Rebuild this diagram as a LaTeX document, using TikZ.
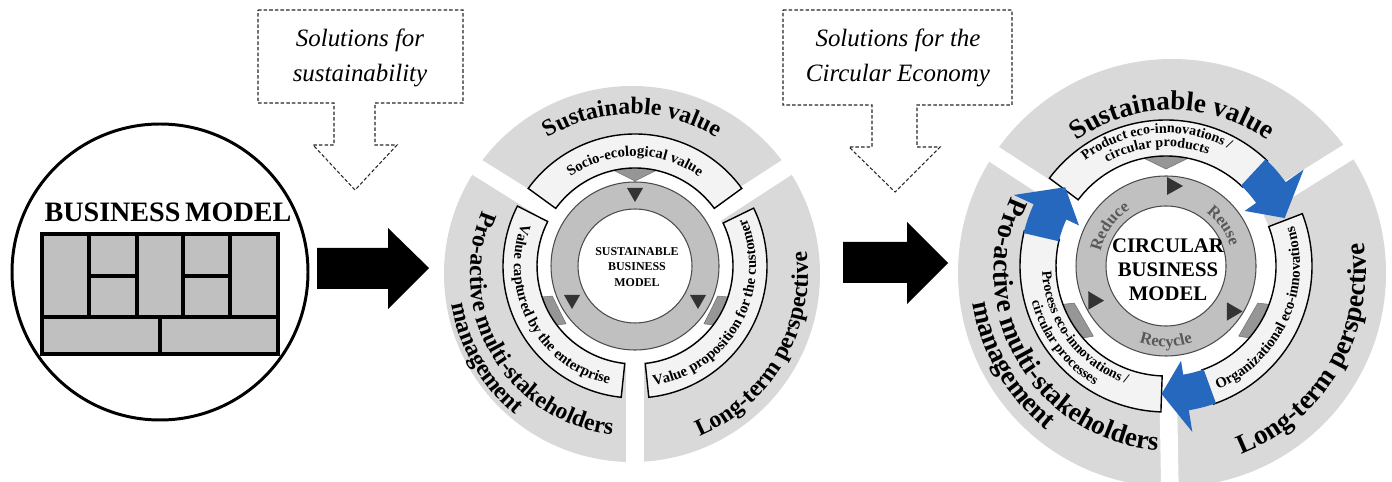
\documentclass[tikz,border=0pt]{standalone}
\usepackage{fontspec}
\setmainfont{Liberation Serif}
\usetikzlibrary{decorations.text}

\definecolor{seggray}{RGB}{217,217,217}
\definecolor{bandfill}{RGB}{243,243,243}
\definecolor{ringgray}{RGB}{192,192,192}
\definecolor{chevgray}{RGB}{150,150,150}
\definecolor{cellgray}{RGB}{192,192,192}
\definecolor{cycleblue}{RGB}{38,104,190}

\newcommand{\outerfont}{\bfseries\fontsize{13.5}{13.5}\selectfont}
\newcommand{\outerfontb}{\bfseries\fontsize{15.5}{15.5}\selectfont}
\newcommand{\bandfont}{\bfseries\fontsize{8.4}{8.4}\selectfont}
\newcommand{\bandfontb}{\bfseries\fontsize{8}{8}\selectfont}
\newcommand{\ringfont}{\bfseries\fontsize{9.5}{9.5}\selectfont}

\tikzset{
  seg/.style={fill=seggray, even odd rule},
  gap/.style={draw=white, line width=10pt},
  band/.style={fill=bandfill, draw=black, line width=0.8pt},
  ring/.style={fill=ringgray, draw=black!70, line width=0.6pt, even odd rule},
  chev/.style={fill=chevgray, draw=black!55, line width=0.3pt},
  tri/.style={fill=black!80},
  callout/.style={draw=black!85, dash pattern=on 2pt off 1.2pt, line width=0.6pt},
  calltext/.style={font=\itshape\fontsize{14.2}{16}\selectfont, anchor=base},
  cell/.style={line width=2.2pt},
  bluearrow/.style={fill=cycleblue},
  arctext/.style={decorate, decoration={text along path, text align=center, text={#1}}},
}

\begin{document}
\begin{tikzpicture}[x=0.02cm, y=0.02cm]
	\useasboundingbox (0,0) rectangle (1392,-482);

	% business model canvas
	\draw[line width=1.7pt] (160,-272) circle[radius=148];
	\node[font=\bfseries\fontsize{16}{16}\selectfont, anchor=base] (bm) at (168,-222) {BUSINESS\,MODEL};
	\filldraw[cell, fill=cellgray] (42,-234) rectangle (278,-354);
	\draw[cell] (42,-317) -- (278,-317);
	\foreach \x in {89,137,183,230} \draw[cell] (\x,-234) -- (\x,-317);
	\draw[cell] (89,-276) -- (137,-276) (183,-276) -- (230,-276);
	\draw[cell] (160,-317) -- (160,-354);

	% block arrows
	\fill (317,-248) -- (388,-248) -- (388,-228) -- (429,-268) -- (388,-309) -- (388,-289) -- (317,-289) -- cycle;
	\fill (843,-242) -- (907,-242) -- (907,-222) -- (948,-263) -- (907,-304) -- (907,-283) -- (843,-283) -- cycle;

	% callouts
	\draw[callout] (258,-10) -- (463,-10) -- (463,-103) -- (375,-103) -- (375,-145) -- (397,-145) -- (355,-190) -- (313,-145) -- (334,-145) -- (334,-103) -- (258,-103) -- cycle;
	\node[calltext] (sol1a) at (360,-47) {Solutions for};
	\node[calltext] (sol1b) at (360,-82) {sustainability};
	\draw[callout] (783,-10) -- (1012,-10) -- (1012,-105) -- (917,-105) -- (917,-147) -- (940,-147) -- (895,-192) -- (849,-147) -- (872,-147) -- (872,-105) -- (783,-105) -- cycle;
	\node[calltext] (sol2a) at (898,-47) {Solutions for the};
	\node[calltext] (sol2b) at (898,-82) {Circular Economy};

	% sustainable business model
	\begin{scope}[shift={(635,-266)}]
		\fill[seg] (-3,-8) circle[radius=188] (0,0) circle[radius=97];
		\foreach \a in {33,148,270} \draw[gap] (0,0) -- (\a:210);
		\filldraw[chev] (-30,100) -- (30,100) -- (0,85) -- cycle;
		\filldraw[chev] (198:101) -- (200:88) -- (220:90) -- (216:101) -- cycle;
		\filldraw[chev] (-18:101) -- (-20:88) -- (-40:90) -- (-36:101) -- cycle;
		\foreach \s/\e in {36/144,153/264,-84/26}
			\draw[band] (\s:132) arc[start angle=\s, end angle=\e, radius=132] -- (\e:98) arc[start angle=\e, end angle=\s, radius=98] -- cycle;
		\filldraw[ring] (0,0) circle[radius=84] (0,0) circle[radius=57];
		\foreach \x/\y in {0/71,-63/-36,63/-36} \fill[tri] (\x-8,\y+7) -- (\x+8,\y+7) -- (\x,\y-7) -- cycle;
		\node[align=center, font=\bfseries\fontsize{6.8}{9}\selectfont] (sbm) at (2,-1) {SUSTAINABLE\\BUSINESS\\MODEL};
		\path[arctext={|\bandfont|Socio-ecological value}] (150:110) arc[start angle=150, end angle=30, radius=110];
		\path[arctext={|\bandfont|Value captured by the enterprise}] (148:121) arc[start angle=148, end angle=269, radius=121];
		\path[arctext={|\bandfont|Value proposition for the customer}] (-89:121) arc[start angle=-89, end angle=31, radius=121];
		\begin{scope}[shift={(-3,-8)}]
			\path[arctext={|\outerfont|Sustainable value}] (150:160) arc[start angle=150, end angle=30, radius=160];
			\path[arctext={|\outerfont|Pro-active multi-stakeholders}] (150:162) arc[start angle=150, end angle=270, radius=162];
			\path[arctext={|\outerfont|management}] (150:183) arc[start angle=150, end angle=270, radius=183];
			\path[arctext={|\outerfont|Long-term perspective}] (270:176) arc[start angle=270, end angle=390, radius=176];
		\end{scope}
	\end{scope}

	% circular business model
	\begin{scope}[shift={(1166,-266)}]
		\fill[seg] (6,-7) circle[radius=214] (0,0) circle[radius=110];
		\foreach \a in {32,147,271} \draw[gap] (0,0) -- (\a:235);
		\filldraw[chev] (-33,113) -- (33,113) -- (0,97) -- cycle;
		\filldraw[chev] (200:113) -- (202:99) -- (224:101) -- (220:113) -- cycle;
		\filldraw[chev] (-20:113) -- (-22:99) -- (-44:101) -- (-40:113) -- cycle;
		\foreach \s/\e in {46/143,166/268,-71/21}
			\draw[band] (\s:146) arc[start angle=\s, end angle=\e, radius=146] -- (\e:110) arc[start angle=\e, end angle=\s, radius=110] -- cycle;
		\foreach \s/\b/\t in {47/35/22,167/155/142,290/279/268}
			\fill[bluearrow] (\s:146) arc[start angle=\s, end angle=\b, radius=146] -- (\b:168) -- (\t:128) -- (\b:96) -- (\b:110) arc[start angle=\b, end angle=\s, radius=110] -- cycle;
		\filldraw[ring] (0,0) circle[radius=90] (0,0) circle[radius=60];
		\foreach \r in {0,-120,-240} \fill[tri, rotate=\r] (1,89) -- (1,71) -- (17,80) -- cycle;
		\node[align=center, font=\bfseries\fontsize{11.8}{13.6}\selectfont] (cbm) at (2,-4) {CIRCULAR\\BUSINESS\\MODEL};
		\path[arctext={|\ringfont\color{black!65}|Reduce}] (175:67) arc[start angle=175, end angle=115, radius=67];
		\path[arctext={|\ringfont\color{black!65}|Reuse}] (65:67) arc[start angle=65, end angle=5, radius=67];
		\path[arctext={|\ringfont\color{black!65}|Recycle}] (240:81) arc[start angle=240, end angle=300, radius=81];
		\path[arctext={|\bandfontb|Product eco-innovations /}] (155:133) arc[start angle=155, end angle=34, radius=133];
		\path[arctext={|\bandfontb|circular products}] (155:119) arc[start angle=155, end angle=34, radius=119];
		\path[arctext={|\bandfontb|Process eco-innovations /}] (157:124) arc[start angle=157, end angle=277, radius=124];
		\path[arctext={|\bandfontb|circular processes}] (157:139) arc[start angle=157, end angle=277, radius=139];
		\path[arctext={|\bandfont|Organizational eco-innovations}] (-85:134) arc[start angle=-85, end angle=35, radius=134];
		\begin{scope}[shift={(6,-7)}]
			\path[arctext={|\outerfontb|Sustainable value}] (150:163) arc[start angle=150, end angle=30, radius=163];
			\path[arctext={|\outerfontb|Pro-active multi-stakeholders}] (150:178) arc[start angle=150, end angle=270, radius=178];
			\path[arctext={|\outerfontb|management}] (150:201) arc[start angle=150, end angle=270, radius=201];
			\path[arctext={|\outerfontb|Long-term perspective}] (270:194) arc[start angle=270, end angle=390, radius=194];
		\end{scope}
	\end{scope}
\end{tikzpicture}
\end{document}
